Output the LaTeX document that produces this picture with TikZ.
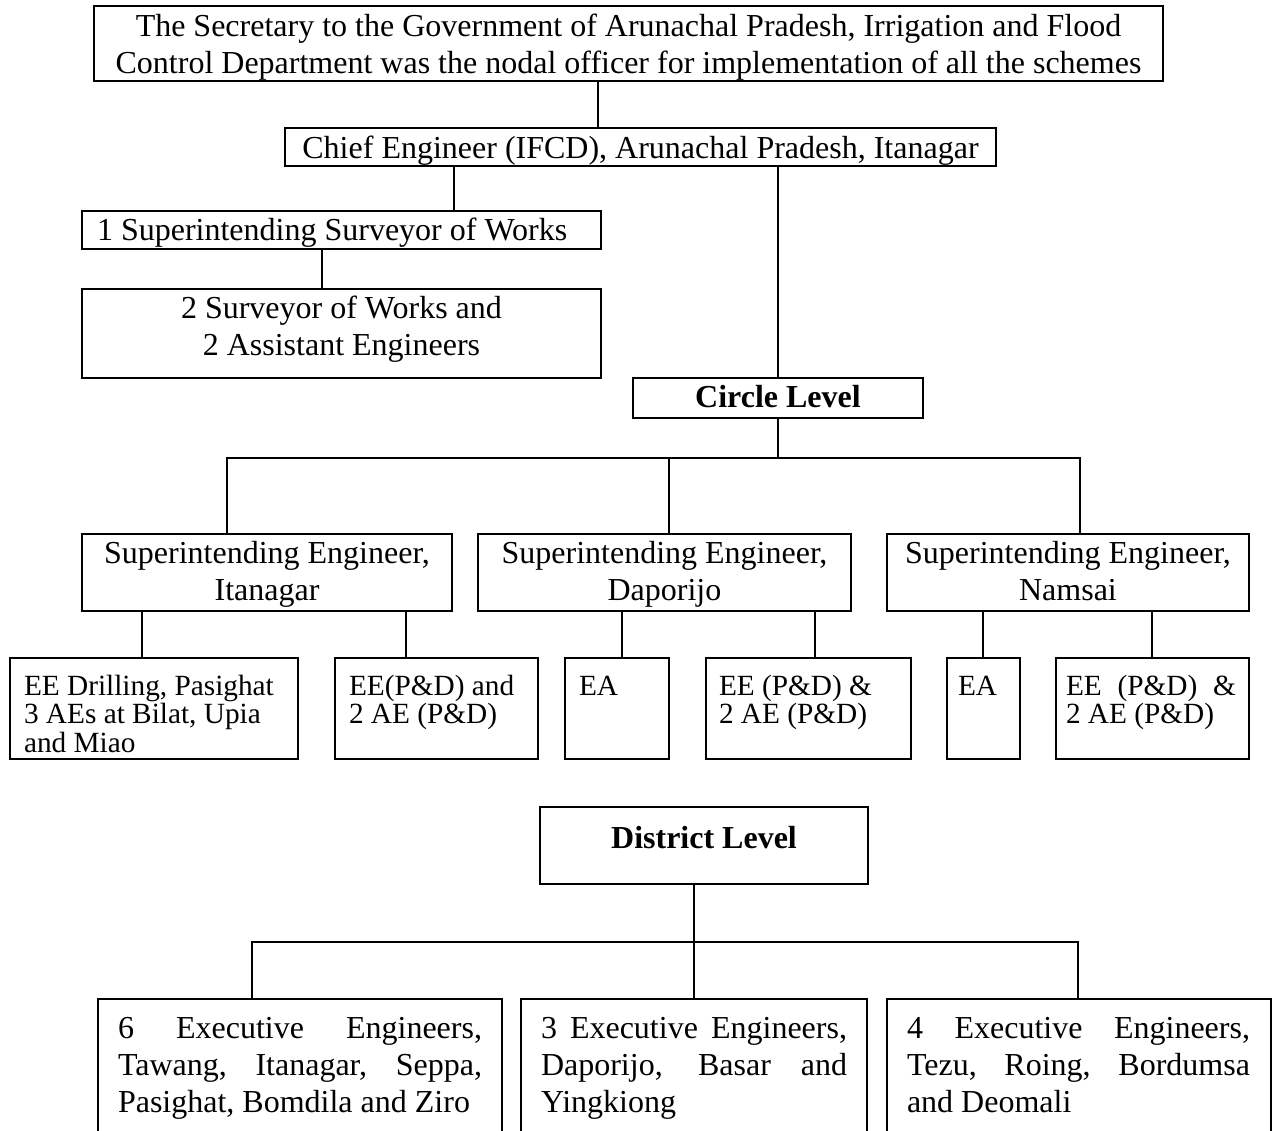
\documentclass[tikz,border=0pt]{standalone}
\usepackage{fontspec}
\setmainfont{Liberation Serif}
\newcommand\fa{\fontsize{32}{37}\selectfont}
\newcommand\fb{\fontsize{29.3}{28.8}\selectfont}
\tikzset{
  box/.style={draw, line width=1.8pt, inner sep=0pt, outer sep=0pt},
  conn/.style={line width=1.5pt},
  thin/.style={line width=1.2pt},
  txt/.style={inner sep=0pt, outer sep=0pt, font=\fa},
  txs/.style={inner sep=0pt, outer sep=0pt, font=\fb, anchor=base west},
}
\newcommand\bx[5]{\node[box, minimum width={#4-#2}, minimum height={#5-#3}] (#1) at ({(#2+#4)/2},{(#3+#5)/2}) {};}
\begin{document}
\begin{tikzpicture}[x=1pt,y=-1pt]
\useasboundingbox (0,0) rectangle (1277,1130);
\clip (0,0) rectangle (1277,1130);
% boxes
\bx{sec}{94}{6}{1163}{81}
\bx{chief}{285}{128}{996}{166}
\bx{ssw}{82}{211}{601}{249}
\bx{sow}{82}{289}{601}{378}
\bx{circ}{633}{378}{923}{418}
\bx{se1}{82}{534}{452}{611}
\bx{se2}{478}{534}{851}{611}
\bx{se3}{887}{534}{1249}{611}
\bx{la}{10}{658}{298}{759}
\bx{lb}{335}{658}{538}{759}
\bx{lc}{565}{658}{669}{759}
\bx{ld}{706}{658}{911}{759}
\bx{le}{947}{658}{1020}{759}
\bx{lf}{1056}{658}{1249}{759}
\bx{dist}{540}{807}{868}{884}
\bx{ba}{98}{999}{502}{1150}
\bx{bb}{521}{999}{867}{1150}
\bx{bc}{887}{999}{1271}{1150}
% texts
\node[txt, anchor=base] (tsec) at (628.5,36) {\parbox[t]{1069pt}{\centering The Secretary to the Government of Arunachal Pradesh, Irrigation and Flood\\Control Department was the nodal officer for implementation of all the schemes}};
\node[txt, anchor=base] (tchief) at (640.5,158) {Chief Engineer (IFCD), Arunachal Pradesh, Itanagar};
\node[txt, anchor=base west] (tssw) at (97,240) {1 Superintending Surveyor of Works};
\node[txt, anchor=base] (tsow) at (341.5,318) {\parbox[t]{510pt}{\centering 2 Surveyor of Works and\\2 Assistant Engineers}};
\node[txt, anchor=base] (tcirc) at (778,407) {\bfseries Circle Level};
\node[txt, anchor=base] (tse1) at (267,563) {\parbox[t]{360pt}{\centering Superintending Engineer,\\Itanagar}};
\node[txt, anchor=base] (tse2) at (664.5,563) {\parbox[t]{360pt}{\centering Superintending Engineer,\\Daporijo}};
\node[txt, anchor=base] (tse3) at (1068,563) {\parbox[t]{360pt}{\centering Superintending Engineer,\\Namsai}};
\node[txs] (tla) at (24,695) {\parbox[t]{270pt}{\raggedright EE Drilling, Pasighat\\3 AEs at Bilat, Upia\\and Miao}};
\node[txs] (tlb) at (349,695) {\parbox[t]{185pt}{\raggedright EE(P\&D) and\\2 AE (P\&D)}};
\node[txs] (tlc) at (579,695) {EA};
\node[txs] (tld) at (719,695) {\parbox[t]{185pt}{\raggedright EE (P\&D) \&\\2 AE (P\&D)}};
\node[txs] (tle) at (958,695) {EA};
\node[txs] (tlf) at (1066,695) {\parbox[t]{170pt}{\makebox[\linewidth][s]{EE (P\&D) \&}\\2 AE (P\&D)}};
\node[txt, anchor=base] (tdist) at (704,848) {\bfseries District Level};
\node[txt, anchor=base west] (tba) at (118,1038) {\parbox[t]{364pt}{\makebox[\linewidth][s]{6 Executive Engineers,}\\\makebox[\linewidth][s]{Tawang, Itanagar, Seppa,}\\Pasighat, Bomdila and Ziro}};
\node[txt, anchor=base west] (tbb) at (541,1038) {\parbox[t]{306pt}{\makebox[\linewidth][s]{3 Executive Engineers,}\\\makebox[\linewidth][s]{Daporijo, Basar and}\\Yingkiong}};
\node[txt, anchor=base west] (tbc) at (907,1038) {\parbox[t]{343pt}{\makebox[\linewidth][s]{4 Executive Engineers,}\\\makebox[\linewidth][s]{Tezu, Roing, Bordumsa}\\and Deomali}};
% connector x positions
\coordinate (xa) at (598,0);
\coordinate (xb) at (454,0);
\coordinate (xc) at (322,0);
\coordinate (xd) at (778,0);
\coordinate (k1) at (142,0);
\coordinate (k2) at (406,0);
\coordinate (k3) at (622,0);
\coordinate (k4) at (815,0);
\coordinate (k5) at (983,0);
\coordinate (k6) at (1152,0);
\coordinate (barL) at (227,458);
\coordinate (barM) at (669,458);
\coordinate (barR) at (1080,458);
\coordinate (dL) at (252,942);
\coordinate (dM) at (694,942);
\coordinate (dR) at (1078,942);
% connectors
\draw[conn] (sec.south -| xa) -- (chief.north -| xa);
\draw[conn] (chief.south -| xb) -- (ssw.north -| xb);
\draw[conn] (ssw.south -| xc) -- (sow.north -| xc);
\draw[conn] (chief.south -| xd) -- (circ.north -| xd);
\draw[conn] (circ.south -| xd) -- (barL -| xd);
\draw[conn] (se1.north -| barL) -- (barL) -- (barR) -- (se3.north -| barR);
\draw[conn] (barM) -- (se2.north -| barM);
\draw[conn] (se1.south -| k1) -- (la.north -| k1);
\draw[conn] (se1.south -| k2) -- (lb.north -| k2);
\draw[conn] (se2.south -| k3) -- (lc.north -| k3);
\draw[conn] (se2.south -| k4) -- (ld.north -| k4);
\draw[conn] (se3.south -| k5) -- (le.north -| k5);
\draw[conn] (se3.south -| k6) -- (lf.north -| k6);
\draw[thin] (dist.south -| dM) -- (dM) -- (bb.north -| dM);
\draw[thin] (ba.north -| dL) -- (dL) -- (dR) -- (bc.north -| dR);
\end{tikzpicture}
\end{document}
